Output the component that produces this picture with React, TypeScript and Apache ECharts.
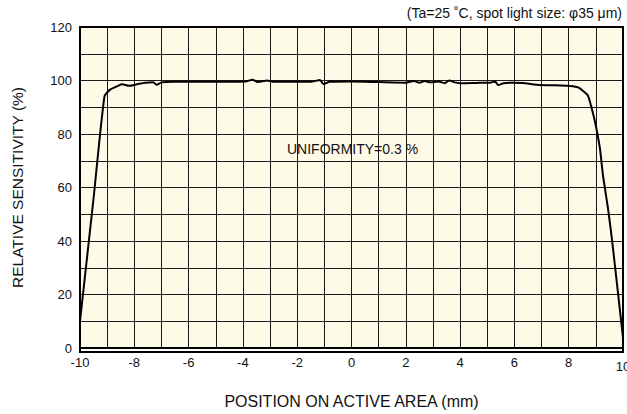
import React, { useEffect, useRef } from "react";
import * as echarts from "echarts";

const positions = [
  -10, -9.5, -9.1, -8.9, -8.6, -8.45, -8.2, -7.9, -7.6, -7.3, -7.18, -7.0, -6.5, -5.5, -4.5,
  -3.9, -3.65, -3.45, -3.1, -2.9, -2.0, -1.5, -1.16, -1.04, -0.8, 0, 1.0, 2.0, 2.3, 2.5, 2.7,
  2.9, 3.2, 3.44, 3.6, 3.8, 4.0, 4.6, 5.1, 5.29, 5.4, 5.6, 5.95, 6.3, 6.94, 7.5, 7.93, 8.2,
  8.35, 8.53, 8.7, 8.79, 8.97, 9.15, 9.26, 9.45, 9.6, 9.8, 10,
];
const sensitivity = [
  10, 56, 94, 96.5, 98.0, 98.6, 98.0, 98.6, 99.2, 99.3, 98.4, 99.3, 99.5, 99.5, 99.5,
  99.6, 100.3, 99.4, 100.0, 99.5, 99.5, 99.5, 100.2, 98.7, 99.5, 99.6, 99.4, 99.2, 99.8, 99.2, 99.8,
  99.3, 99.6, 99.0, 100.0, 99.3, 99.0, 99.1, 99.2, 99.6, 98.3, 99.0, 99.2, 99.1, 98.3, 98.2, 98.0, 97.8,
  97.4, 96.1, 94.5, 91.8, 84.5, 74.6, 64.7, 52, 40, 22, 3.8,
];

const xTicks = [-10, -8, -6, -4, -2, 0, 2, 4, 6, 8];
const xLastTick = "10";
const yTicks = [0, 20, 40, 60, 80, 100, 120];

const FONT = "Liberation Sans, Arial, sans-serif";

export default function App() {
  const ref = useRef<HTMLDivElement>(null);
  useEffect(() => {
    if (!ref.current) return;
    const chart = echarts.init(ref.current, null, { renderer: "svg" });
    const data = positions.map((x, i) => [x, sensitivity[i]]);
    chart.setOption({
      animation: false,
      backgroundColor: "#ffffff",
      textStyle: { fontFamily: FONT },
      grid: {
        left: 80,
        right: 4,
        top: 27,
        bottom: 62,
        show: true,
        backgroundColor: "#fefae8",
        borderColor: "#000",
        borderWidth: 0,
      },
      xAxis: {
        type: "value",
        min: -10,
        max: 10,
        interval: 1,
        axisLine: { show: true, onZero: false, lineStyle: { color: "#000", width: 2 } },
        axisTick: { show: false },
        splitLine: { show: true, lineStyle: { color: "#1a1a1a", width: 1 } },
        axisLabel: {
          color: "#111",
          fontSize: 13,
          fontFamily: FONT,
          margin: 8,
          formatter: (v: number) => (xTicks.includes(v) ? String(v) : ""),
        },
        name: "POSITION ON ACTIVE AREA (mm)",
        nameLocation: "middle",
        nameGap: 45,
        nameTextStyle: { color: "#111", fontSize: 16, fontFamily: FONT },
      },
      yAxis: {
        type: "value",
        min: 0,
        max: 120,
        interval: 10,
        axisLine: { show: true, onZero: false, lineStyle: { color: "#000", width: 2 } },
        axisTick: { show: false },
        splitLine: { show: true, lineStyle: { color: "#1a1a1a", width: 1 } },
        axisLabel: {
          color: "#111",
          fontSize: 13,
          fontFamily: FONT,
          margin: 8,
          formatter: (v: number) => (yTicks.includes(v) ? String(v) : ""),
        },
        name: "RELATIVE SENSITIVITY (%)",
        nameLocation: "middle",
        nameGap: 55,
        nameTextStyle: { color: "#111", fontSize: 15.5, fontFamily: FONT },
      },
      graphic: [
        {
          type: "rect",
          shape: { x: 80, y: 27, width: 543, height: 325 },
          style: { fill: "none", stroke: "#000", lineWidth: 2 },
          silent: true,
          z: 10,
        },
        {
          type: "text",
          x: 623,
          y: 366,
          style: {
            text: xLastTick,
            fill: "#111",
            font: "13px " + FONT,
            align: "center",
            verticalAlign: "middle",
          },
        },
        {
          type: "text",
          right: 5,
          top: 6,
          style: {
            text: "(Ta=25 ˚C, spot light size: φ35 μm)",
            fill: "#111",
            font: "14px " + FONT,
          },
        },
        {
          type: "text",
          left: 287,
          top: 142,
          style: {
            text: "UNIFORMITY=0.3 %",
            fill: "#111",
            font: "14px " + FONT,
          },
          z: 20,
        },
      ],
      series: [
        {
          type: "line",
          data,
          showSymbol: false,
          smooth: 0.2,
          lineStyle: { color: "#000", width: 2 },
          z: 5,
        },
      ],
    });
    return () => chart.dispose();
  }, []);
  return (
    <div style={{ position: "fixed", left: 0, top: 0, width: 627, height: 414, background: "#fff" }}>
      <div ref={ref} style={{ width: 627, height: 414 }} />
    </div>
  );
}
